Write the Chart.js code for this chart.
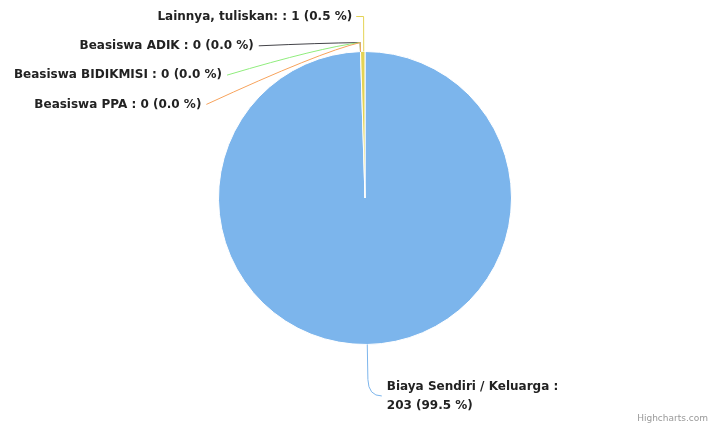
<!DOCTYPE html>
<html>
<head>
<meta charset="utf-8">
<script src="https://cdn.jsdelivr.net/npm/chart.js@4"></script>
<style>
  html, body { margin: 0; padding: 0; background: #fff; }
  #wrap { width: 718px; height: 430px; position: relative; }
</style>
</head>
<body>
<div id="wrap"><canvas id="pie-chart" width="718" height="430"></canvas></div>
<script>
// data
var categories = ["Biaya Sendiri / Keluarga", "Beasiswa ADIK", "Beasiswa BIDIKMISI", "Beasiswa PPA", "Lainnya, tuliskan:"];
var values = [203, 0, 0, 0, 1];
var colors = ["#7cb5ec", "#434348", "#90ed7d", "#f7a35c", "#e4d354"];

var labelFont = "bold 12px 'DejaVu Sans', Verdana, sans-serif";

// label teks seperti highcharts
function labelText(i) {
    var total = values.reduce((a, b) => a + b, 0);
    var pct = (values[i] / total * 100).toFixed(1);
    return categories[i] + " : " + values[i] + " (" + pct + " %)";
}

function wrapText(ctx, text, maxWidth) {
    var words = text.split(" ");
    var lines = [];
    var line = "";
    words.forEach(w => {
        var test = line ? line + " " + w : w;
        if (ctx.measureText(test).width > maxWidth && line) {
            lines.push(line);
            line = w;
        } else {
            line = test;
        }
    });
    if (line) lines.push(line);
    return lines;
}

var pieLabels = {
    id: "pieLabels",
    afterDraw: function (chart) {
        var ctx = chart.ctx;
        var meta = chart.getDatasetMeta(0);
        var distY = 35, distX = 42, spacing = 29.3;
        ctx.save();
        ctx.font = labelFont;
        ctx.textBaseline = "middle";

        var items = meta.data.map((arc, i) => {
            var mid = (arc.startAngle + arc.endAngle) / 2;
            var r = arc.outerRadius;
            return {
                i: i, arc: arc, mid: mid, r: r,
                left: Math.cos(mid) < 0,
                ny: arc.y + (r + distY) * Math.sin(mid),
                nx: arc.x + (r + distY) * Math.cos(mid)
            };
        });

        // kiri: susun ke bawah
        var left = items.filter(it => it.left).sort((a, b) => (a.ny - b.ny) || (a.i - b.i));
        var prev = -Infinity;
        left.forEach(it => {
            it.y = Math.max(it.ny, prev + spacing);
            it.moved = it.y > it.ny + 0.5;
            prev = it.y;
        });
        var right = items.filter(it => !it.left);
        right.forEach(it => { it.y = it.ny; it.moved = false; });

        items.forEach(it => {
            var arc = it.arc;
            var cx = arc.x, cy = arc.y;
            var ex = cx + it.r * Math.cos(it.mid), ey = cy + it.r * Math.sin(it.mid);
            var bx = cx + (it.r + 9) * Math.cos(it.mid), by = cy + (it.r + 9) * Math.sin(it.mid);
            var text = labelText(it.i);
            ctx.strokeStyle = colors[it.i];
            ctx.lineWidth = 1;
            ctx.fillStyle = "#222";
            if (it.left) {
                var endX;
                if (it.moved) {
                    var dy = cy - it.y;
                    var R = it.r + distX;
                    endX = cx - Math.sqrt(Math.max(R * R - dy * dy, 0));
                } else {
                    endX = it.nx - 10;
                }
                ctx.textAlign = "right";
                ctx.fillText(text, endX, it.y);
                ctx.beginPath();
                if (it.moved) {
                    ctx.moveTo(endX + 5, it.y);
                    ctx.quadraticCurveTo(bx - 40, by + (it.y - by) * 0.15, bx, by);
                    ctx.lineTo(ex, ey);
                } else {
                    ctx.moveTo(endX + 4, it.y);
                    ctx.lineTo(bx + 1, it.y);
                    ctx.lineTo(ex + 1, ey);
                }
                ctx.stroke();
            } else {
                var startX = it.nx + 19;
                var lines = wrapText(ctx, text, 185);
                var ly = it.y + 7;
                ctx.textAlign = "left";
                lines.forEach((l, k) => ctx.fillText(l, startX, ly + k * 19));
                var cyc = ly + (lines.length - 1) * 19 / 2;
                ctx.beginPath();
                ctx.moveTo(ex, ey);
                ctx.lineTo(bx + 0.5, by + 26);
                ctx.quadraticCurveTo(bx + 1, cyc, startX - 5, cyc);
                ctx.stroke();
            }
        });

        // credits
        ctx.font = "9px 'DejaVu Sans', Verdana, sans-serif";
        ctx.fillStyle = "#999";
        ctx.textAlign = "right";
        ctx.textBaseline = "alphabetic";
        ctx.fillText("Highcharts.com", 708, 421);
        ctx.restore();
    }
};

var canvas = document.getElementById("pie-chart");
var myChart = new Chart(canvas.getContext("2d"), {
    type: "pie",
    data: {
        labels: categories,
        datasets: [{
            data: values,
            backgroundColor: colors,
            borderColor: "#ffffff",
            borderWidth: 1
        }]
    },
    options: {
        responsive: false,
        animation: false,
        layout: {
            padding: { top: 51, bottom: 85, left: 218, right: 206 }
        },
        plugins: {
            legend: { display: false },
            tooltip: { enabled: false }
        }
    },
    plugins: [pieLabels]
});
</script>
</body>
</html>
